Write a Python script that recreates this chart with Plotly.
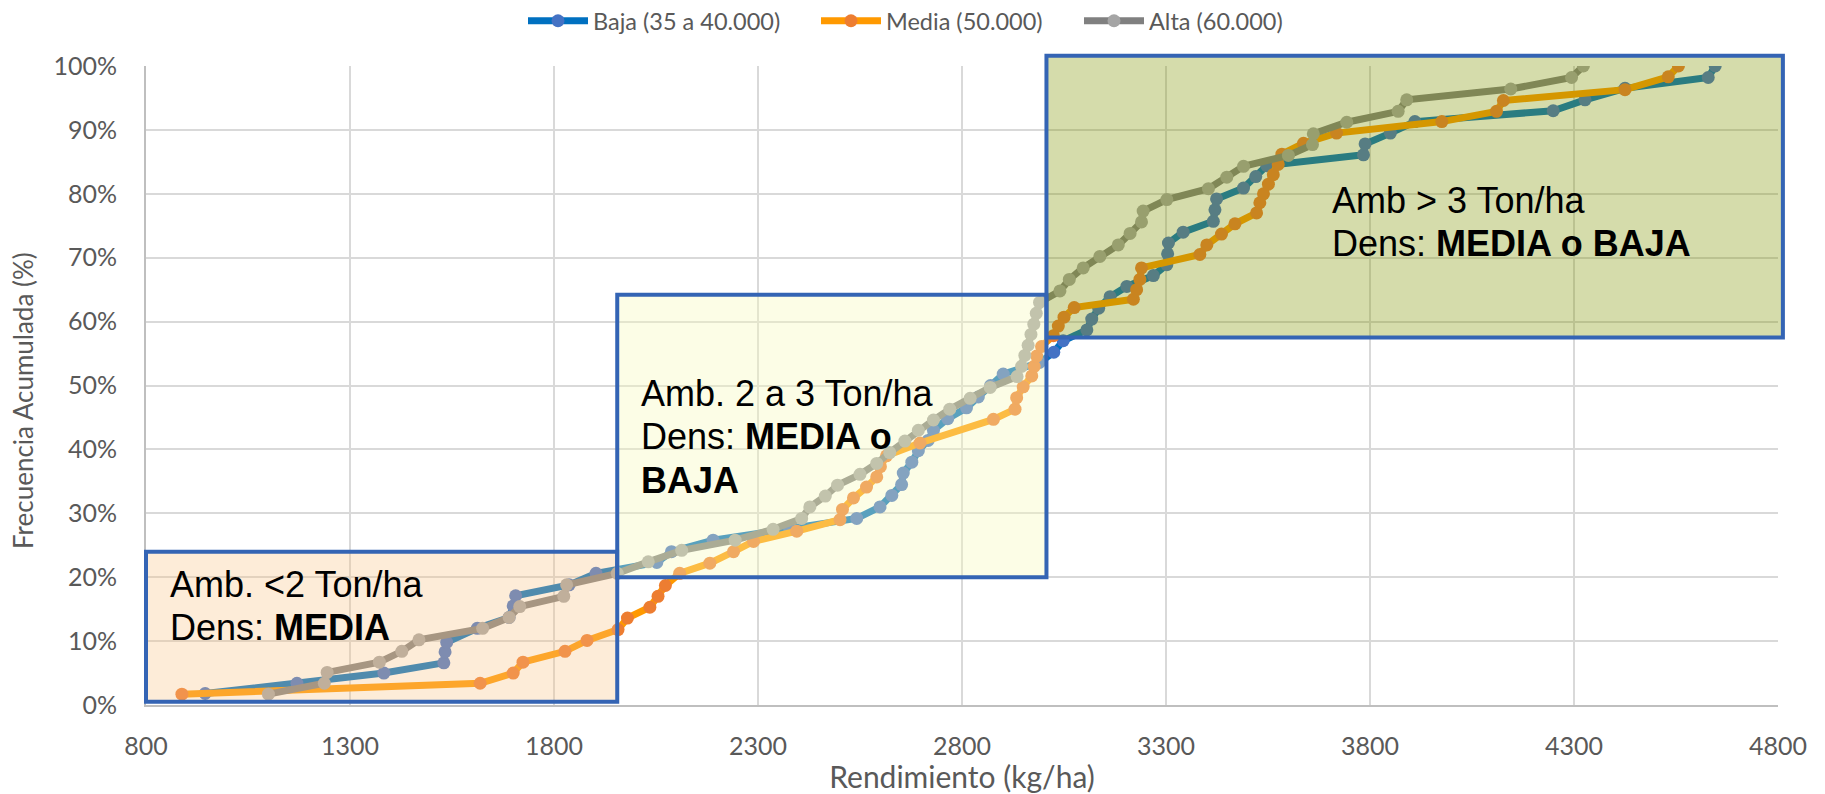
import plotly.graph_objects as go

# ---------------- data ----------------
baja_x = [945, 1170, 1383, 1530, 1533, 1537, 1612, 1690, 1700, 1706, 1837, 1903, 2052, 2088, 2190,
          2378, 2542, 2599, 2628, 2652, 2656, 2677, 2693, 2717, 2730, 2765, 2811, 2840, 2870, 2901,
          2990, 3025, 3048, 3106, 3118, 3135, 3163, 3204, 3269, 3302, 3304, 3306, 3342, 3416, 3420,
          3424, 3490, 3520, 3547, 3784, 3788, 3850, 3910, 4249, 4327, 4425, 4629, 4646]
baja_y = [1.8, 3.4, 5.0, 6.6, 8.3, 9.8, 12.0, 13.7, 15.5, 17.1, 18.8, 20.6, 22.3, 24.0, 25.8,
          27.5, 29.2, 31.0, 32.8, 34.5, 36.3, 38.0, 39.8, 41.4, 43.0, 44.8, 46.5, 48.2, 50.0, 51.8,
          53.6, 55.2, 57.0, 58.7, 60.4, 62.1, 63.9, 65.5, 67.2, 68.9, 70.6, 72.3, 74.0, 75.7, 77.5,
          79.2, 80.9, 82.7, 84.4, 86.1, 87.8, 89.5, 91.3, 93.0, 94.7, 96.5, 98.2, 100]

media_x = [888, 1619, 1700, 1724, 1827, 1881, 1957, 1980, 2035, 2055, 2073, 2108, 2182, 2240, 2289,
           2395, 2501, 2507, 2534, 2566, 2591, 2600, 2615, 2697, 2877, 2930, 2934, 2950, 2971, 2977,
           2983, 2995, 3024, 3036, 3050, 3075, 3220, 3228, 3236, 3240, 3383, 3400, 3436, 3469, 3522,
           3530, 3539, 3551, 3563, 3575, 3584, 3637, 3718, 3976, 4110, 4127, 4425, 4531, 4556]
media_y = [1.7, 3.4, 5.0, 6.7, 8.4, 10.1, 11.8, 13.6, 15.3, 17.0, 18.7, 20.6, 22.2, 24.0, 25.6,
           27.2, 29.0, 30.6, 32.4, 34.1, 35.7, 37.3, 39.0, 41.0, 44.7, 46.3, 48.1, 49.8, 51.5, 53.0,
           54.6, 56.1, 57.8, 59.3, 60.7, 62.2, 63.5, 65.0, 66.6, 68.4, 70.5, 72.0, 73.7, 75.3, 77.0,
           78.6, 80.0, 81.5, 83.0, 84.6, 86.2, 87.9, 89.5, 91.3, 92.9, 94.6, 96.3, 98.3, 100]

alta_x = [1100, 1237, 1244, 1372, 1427, 1469, 1625, 1690, 1716, 1824, 1831, 1955, 2031, 2113, 2244,
          2337, 2407, 2427, 2465, 2495, 2550, 2591, 2623, 2660, 2693, 2730, 2770, 2820, 2869, 2935,
          2946, 2954, 2962, 2969, 2976, 2982, 2990, 3040, 3063, 3097, 3138, 3183, 3212, 3240, 3244,
          3302, 3404, 3449, 3490, 3600, 3659, 3661, 3743, 3869, 3890, 4145, 4294, 4323]
alta_y = [1.7, 3.4, 5.1, 6.7, 8.4, 10.2, 12.0, 13.7, 15.4, 17.0, 18.8, 20.6, 22.4, 24.2, 25.8,
          27.5, 29.2, 31.0, 32.7, 34.4, 36.1, 37.8, 39.5, 41.3, 43.0, 44.6, 46.3, 48.0, 49.7, 51.4,
          53.0, 54.7, 56.3, 58.0, 59.6, 61.3, 63.0, 64.8, 66.6, 68.4, 70.2, 72.0, 73.8, 75.6, 77.3,
          79.1, 80.8, 82.6, 84.3, 86.0, 87.7, 89.4, 91.2, 92.9, 94.7, 96.4, 98.2, 100]

series_names = ["Baja (35 a 40.000)", "Media (50.000)", "Alta (60.000)"]
x_title = "Rendimiento (kg/ha)"
y_title = "Frecuencia Acumulada (%)"

# zones (rendimiento kg/ha, frecuencia %)
zone_x0 = [800, 1955, 3007]
zone_x1 = [1955, 3007, 4812]
zone_y0 = [0.5, 20.0, 57.5]
zone_y1 = [24.0, 64.2, 101.6]
zone_lines = [["Amb. <2 Ton/ha", "Dens: <b>MEDIA</b>"],
              ["Amb. 2 a 3 Ton/ha", "Dens: <b>MEDIA o</b>", "<b>BAJA</b>"],
              ["Amb > 3 Ton/ha", "Dens: <b>MEDIA o BAJA</b>"]]
zone_text_x = [854, 2009, 3702]
zone_text_y = [[18.9, 12.1], [48.7, 42.0, 35.1], [79.0, 72.2]]

X_RANGE = [800, 4800]
Y_RANGE = [0, 100]

# ---------------- styles ----------------
line_colors = ["#0070C0", "#FF9900", "#808080"]
marker_colors = ["#4472C4", "#ED7D31", "#A5A5A5"]
zone_fill = ["rgba(249,195,134,0.32)", "rgba(247,249,185,0.36)", "rgba(128,149,0,0.33)"]
BORDER = "#3464B4"
TXT = "#595959"
FONT = "Lato, Carlito, Calibri, sans-serif"
PAGE_PAD = 8                     # default body margin of the html page
W, H = 1825 - PAGE_PAD, 794 - PAGE_PAD
ML, MR, MT, MB = 146 - PAGE_PAD, 47, 66 - PAGE_PAD, 89
legend_ids = ["legend", "legend2", "legend3"]
legend_left_px = [515, 808, 1071]

fig = go.Figure()
for xs, ys, name, lc, mc, lg in zip([baja_x, media_x, alta_x], [baja_y, media_y, alta_y],
                                    series_names, line_colors, marker_colors, legend_ids):
    fig.add_trace(go.Scatter(x=xs, y=ys, name=name, mode="lines+markers", legend=lg,
                             line=dict(color=lc, width=7),
                             marker=dict(color=mc, size=13, line=dict(width=0))))


def px(v):
    return (v - X_RANGE[0]) / (X_RANGE[1] - X_RANGE[0])


def py(v):
    return (v - Y_RANGE[0]) / (Y_RANGE[1] - Y_RANGE[0])


for i in range(3):
    fig.add_shape(type="rect", xref="paper", yref="paper",
                  x0=px(zone_x0[i]), x1=px(zone_x1[i]), y0=py(zone_y0[i]), y1=py(zone_y1[i]),
                  fillcolor=zone_fill[i], line=dict(color=BORDER, width=4), layer="above")
    for txt, ty in zip(zone_lines[i], zone_text_y[i]):
        fig.add_annotation(x=zone_text_x[i], y=ty, xref="x", yref="y", text=txt,
                           showarrow=False, xanchor="left", yanchor="middle", align="left",
                           font=dict(family="Liberation Sans, Arial, sans-serif", size=36, color="#000000"))

# y-axis title (sits a little below the vertical centre in the original)
plot_w = W - ML - MR
plot_h = H - MT - MB
fig.add_annotation(text=y_title, textangle=-90, showarrow=False, xref="paper", yref="paper",
                   x=(23 - PAGE_PAD - ML) / plot_w, y=(H - MB - (401 - PAGE_PAD)) / plot_h,
                   xanchor="center", yanchor="middle",
                   font=dict(family=FONT, size=26, color=TXT))

legend_style = dict(orientation="h", xref="container", yref="container", xanchor="left",
                    y=1 - 13 / H, yanchor="middle", font=dict(family=FONT, size=23.5, color=TXT),
                    itemwidth=60, bgcolor="rgba(0,0,0,0)", borderwidth=0)

fig.update_layout(
    width=W, height=H, autosize=False,
    margin=dict(l=ML, r=MR, t=MT, b=MB, autoexpand=False),
    paper_bgcolor="white", plot_bgcolor="white",
    font=dict(family=FONT, color=TXT),
    showlegend=True,
    legend=dict(legend_style, x=legend_left_px[0] / W),
    legend2=dict(legend_style, x=legend_left_px[1] / W),
    legend3=dict(legend_style, x=legend_left_px[2] / W),
    xaxis=dict(range=X_RANGE, tick0=800, dtick=500, showgrid=True, gridcolor="#D9D9D9", gridwidth=2,
               showline=True, linecolor="#BFBFBF", linewidth=2, zeroline=False, ticks="",
               automargin=False,
               tickfont=dict(family=FONT, size=25, color=TXT), ticklabelstandoff=18,
               title=dict(text=x_title, font=dict(family=FONT, size=30, color=TXT), standoff=14)),
    yaxis=dict(range=Y_RANGE, tick0=0, dtick=10, ticksuffix="%", showgrid=True, gridcolor="#D9D9D9",
               gridwidth=2, showline=True, linecolor="#BFBFBF", linewidth=2, zeroline=False, ticks="",
               automargin=False,
               tickfont=dict(family=FONT, size=25, color=TXT), ticklabelstandoff=22),
)

fig.write_html("out.html")
